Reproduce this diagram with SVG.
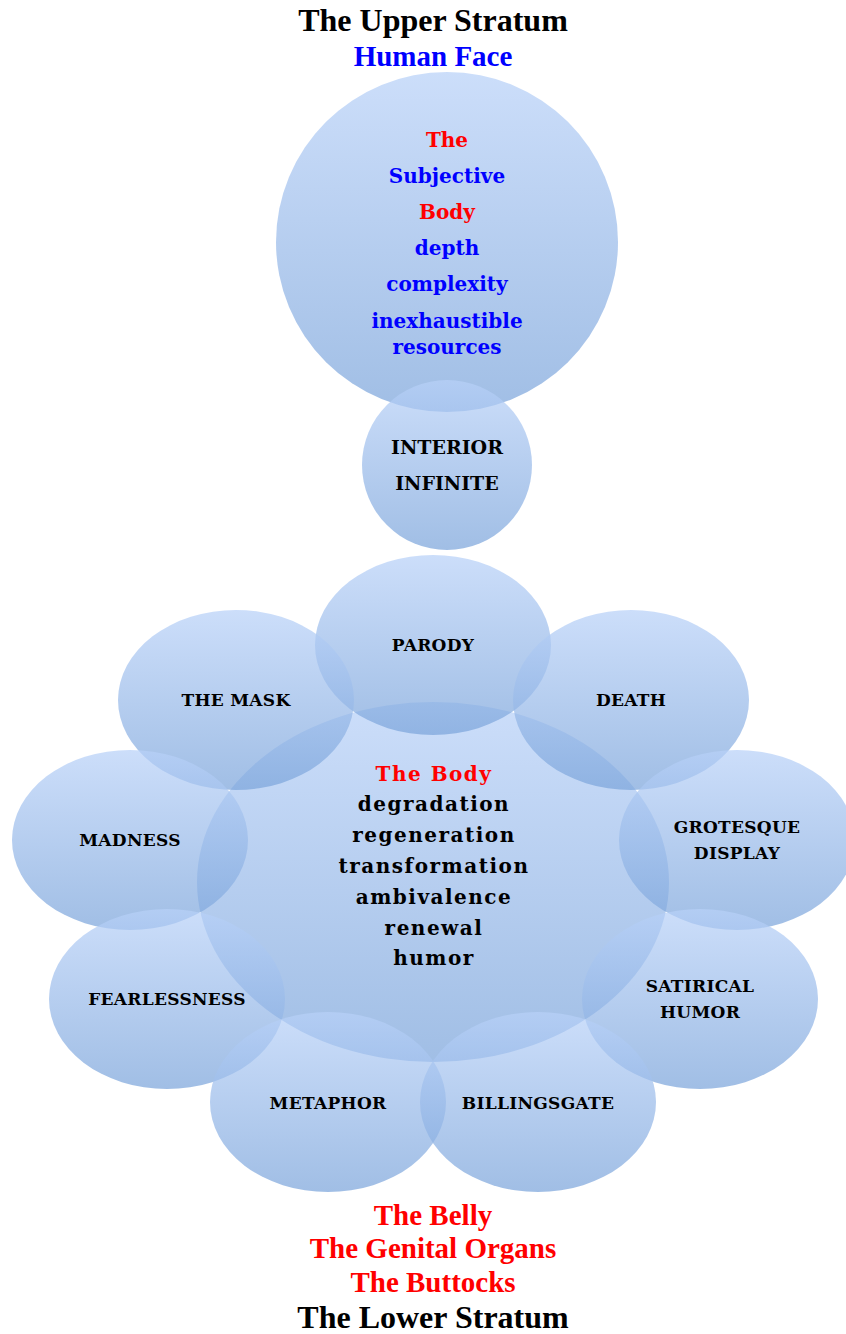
<svg xmlns="http://www.w3.org/2000/svg" width="846" height="1334" viewBox="0 0 846 1334">
<defs>
<linearGradient id="g" x1="0" y1="0" x2="0" y2="1">
<stop offset="0" stop-color="#b8d1f8"/>
<stop offset="1" stop-color="#7ca5db"/>
</linearGradient>
<style>
.sh{fill:url(#g);fill-opacity:0.72}
.t{font-family:"Liberation Serif","Times New Roman",serif;font-weight:bold;text-anchor:middle}
.c{font-family:"DejaVu Serif","Liberation Serif",serif;font-weight:bold;text-anchor:middle}
.big{font-size:20px}
.sp{letter-spacing:1.5px}
.lab{font-size:17px;letter-spacing:0.3px;fill:#000}
.red{fill:#ff0000}
.blue{fill:#0000ff}
.blk{fill:#000}
</style>
</defs>
<rect width="846" height="1334" fill="#fff"/>
<g id="titles">
<text class="t blk" x="433" y="31" font-size="32">The Upper Stratum</text>
<text class="t blue" x="433" y="66" font-size="29">Human Face</text>
<text class="t red" x="433" y="1225" font-size="29">The Belly</text>
<text class="t red" x="433" y="1258" font-size="29">The Genital Organs</text>
<text class="t red" x="433" y="1292" font-size="29">The Buttocks</text>
<text class="t blk" x="433" y="1328" font-size="32">The Lower Stratum</text>
</g>
<g id="upper">
<ellipse class="sh" cx="447" cy="242" rx="171" ry="170"/>
</g>
<g id="interior">
<ellipse class="sh" cx="447" cy="465" rx="85" ry="85"/>
</g>
<g id="body">
<ellipse class="sh" cx="433" cy="882" rx="236" ry="180"/>
</g>
<g id="parody"><ellipse class="sh" cx="433" cy="645" rx="118" ry="90"/></g>
<g id="mask"><ellipse class="sh" cx="236" cy="700" rx="118" ry="90"/></g>
<g id="death"><ellipse class="sh" cx="631" cy="700" rx="118" ry="90"/></g>
<g id="madness"><ellipse class="sh" cx="130" cy="840" rx="118" ry="90"/></g>
<g id="grotesque"><ellipse class="sh" cx="737" cy="840" rx="118" ry="90"/></g>
<g id="fearlessness"><ellipse class="sh" cx="167" cy="999" rx="118" ry="90"/></g>
<g id="satirical"><ellipse class="sh" cx="700" cy="999" rx="118" ry="90"/></g>
<g id="metaphor"><ellipse class="sh" cx="328" cy="1102" rx="118" ry="90"/></g>
<g id="billingsgate"><ellipse class="sh" cx="538" cy="1102" rx="118" ry="90"/></g>
<g id="labels">
<text class="c big red" x="447" y="147">The</text>
<text class="c big blue" x="447" y="183">Subjective</text>
<text class="c big red" x="447" y="219">Body</text>
<text class="c big blue" x="447" y="255">depth</text>
<text class="c big blue" x="447" y="291">complexity</text>
<text class="c big blue" x="447" y="328">inexhaustible</text>
<text class="c big blue" x="447" y="354">resources</text>
<text class="c blk" x="447" y="454" font-size="19">INTERIOR</text>
<text class="c blk" x="447" y="490" font-size="19">INFINITE</text>
<text class="c big sp red" x="434" y="781">The Body</text>
<text class="c big sp blk" x="434" y="811">degradation</text>
<text class="c big sp blk" x="434" y="842">regeneration</text>
<text class="c big sp blk" x="434" y="873">transformation</text>
<text class="c big sp blk" x="434" y="904">ambivalence</text>
<text class="c big sp blk" x="434" y="935">renewal</text>
<text class="c big sp blk" x="434" y="965">humor</text>
<text class="c lab" x="433" y="651">PARODY</text>
<text class="c lab" x="236" y="706">THE MASK</text>
<text class="c lab" x="631" y="706">DEATH</text>
<text class="c lab" x="130" y="846">MADNESS</text>
<text class="c lab" x="737" y="833">GROTESQUE</text>
<text class="c lab" x="737" y="859">DISPLAY</text>
<text class="c lab" x="167" y="1005">FEARLESSNESS</text>
<text class="c lab" x="700" y="992">SATIRICAL</text>
<text class="c lab" x="700" y="1018">HUMOR</text>
<text class="c lab" x="328" y="1109">METAPHOR</text>
<text class="c lab" x="538" y="1109">BILLINGSGATE</text>
</g>
</svg>
